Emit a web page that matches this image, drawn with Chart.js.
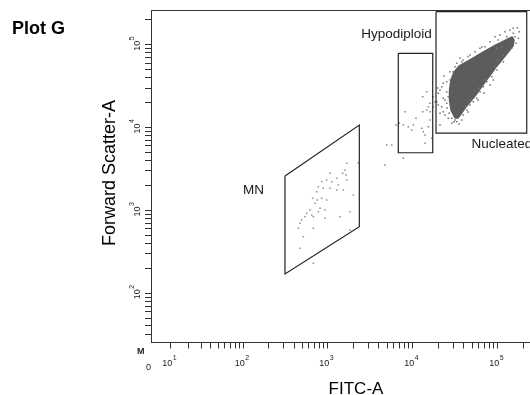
<!DOCTYPE html>
<html>
<head>
<meta charset="utf-8">
<title>Plot G</title>
<script src="https://cdn.jsdelivr.net/npm/chart.js@4.4.1/dist/chart.umd.min.js"></script>
<style>
  html, body { margin: 0; padding: 0; background: #fff; overflow: hidden; }
  #wrap { position: absolute; left: 0; top: 0; width: 560px; height: 395px; }
</style>
</head>
<body>
<div id="wrap"><canvas id="plotG"></canvas></div>
<script>
// ---- data (FITC-A on x, Forward Scatter-A on y) ----

// axis tick values
const xTickValues = [10, 20, 30, 40, 50, 60, 70, 80, 90,
  100, 200, 300, 400, 500, 600, 700, 800, 900,
  1000, 2000, 3000, 4000, 5000, 6000, 7000, 8000, 9000,
  10000, 20000, 30000, 40000, 50000, 60000, 70000, 80000, 90000,
  100000, 200000];
const yTickValues = [30, 40, 50, 60, 70, 80, 90,
  100, 200, 300, 400, 500, 600, 700, 800, 900,
  1000, 2000, 3000, 4000, 5000, 6000, 7000, 8000, 9000,
  10000, 20000, 30000, 40000, 50000, 60000, 70000, 80000, 90000,
  100000, 200000];
const xDecades = [10, 100, 1000, 10000, 100000];
const yDecades = [100, 1000, 10000, 100000];
const axisMax = 262144;

// gates (closed outlines)
const mnGateX = [313, 2348, 2348, 313, 313];
const mnGateY = [2600, 10700, 636, 171, 2600];
const hypoGateX = [6750, 17150, 17150, 6750, 6750];
const hypoGateY = [78700, 78700, 4970, 4970, 78700];
const nucGateX = [18750, 218800, 218800, 18750, 18750];
const nucGateY = [250000, 250000, 8590, 8590, 250000];

// dense nucleated core (outline of the solid region)
const coreX = [31370, 28150, 27030, 27030, 28150, 30530, 34960, 42270, 51080, 61760,
  74640, 90230, 109000, 128300, 146950, 155100, 151000, 135500, 121600, 109000,
  95230, 83180, 70700, 61760, 53930, 47090, 41130, 36900, 34020, 31370];
const coreY = [13030, 16280, 21490, 28380, 37470, 46790, 55270, 61770, 69020, 77150,
  86230, 96340, 106200, 115400, 123700, 113800, 96340, 83850, 72980, 63500,
  53760, 44260, 35440, 29170, 24030, 20330, 17210, 14570, 13030, 13030];

// single events
const mnEventsX = [1669, 2285, 1594, 1497, 1637, 1061, 1273, 970, 1111, 848,
  773, 885, 1061, 1273, 1522, 1669, 1329, 740, 664, 752,
  707, 848, 970, 810, 927, 773, 617, 565, 539, 647,
  675, 927, 1392, 1825, 1995, 493, 471, 450, 675, 515,
  471, 1825, 675];
const mnEventsY = [3702, 3765, 3074, 2805, 2676, 2805, 2441, 2328, 2221, 2221,
  1933, 1849, 1849, 1764, 1764, 2328, 2026, 1682, 1400, 1336,
  1219, 1400, 1336, 1061, 1012, 965, 1012, 923, 840, 880,
  840, 803, 840, 965, 1535, 766, 699, 609, 609, 482,
  349, 580, 230];

const hypoEventsX = [7731, 14570, 13080, 15940, 15220, 14570, 13080, 15940, 8094, 10900,
  15940, 6937, 6345, 7731, 8851, 10140, 9707, 12730, 13290, 15220,
  13920, 16690, 13920, 4931, 5646, 7731, 4709, 17420, 18250, 17420];
const hypoEventsY = [113800, 27060, 23560, 19610, 17840, 16280, 15530, 15530, 15530, 12930,
  12330, 11250, 10730, 10730, 10230, 10730, 9340, 9790, 8910, 10230,
  8128, 7418, 6454, 6156, 6156, 4255, 3532, 23560, 20500, 17840];

const nucEventsX = [19950, 20890, 21880, 22850, 23930, 25050, 21880, 22850, 26160, 27390,
  32850, 34300, 20890, 28690, 31370, 19950, 19530, 22850, 23930, 26160,
  32850, 20890, 19110, 25050, 27390, 31370, 37610, 47090, 53930, 61760,
  70700, 80950, 92710, 106100, 121600, 139200, 152200, 169600, 179000, 159400,
  174300, 163700, 145700, 132900, 116100, 101400, 92710, 84760, 88540, 74040,
  67520, 61760, 56470, 51500, 47090, 43060, 39280, 37610, 127300, 139200,
  152200, 97070, 111200, 25260, 26660, 30530, 29710, 38960, 44620, 70700,
  60090, 47090, 42270, 28920, 34960, 44620, 58490, 68810, 80950, 97860,
  116100, 25050, 23290, 35920, 65180, 100550];
const nucEventsY = [25890, 28380, 31110, 34190, 21490, 19610, 17840, 15530, 23560, 37470,
  59580, 54210, 10730, 12930, 12330, 18700, 30000, 22530, 14170, 12930,
  11760, 14850, 20500, 35740, 47180, 54210, 61770, 75050, 82250, 90400,
  94500, 108600, 124700, 130800, 143400, 150300, 157600, 160200, 143400, 124700,
  119300, 103800, 90400, 82250, 75050, 65290, 54210, 41060, 37470, 35740,
  31110, 27060, 22530, 20500, 18700, 16280, 14170, 12330, 124700, 108600,
  137100, 90400, 94500, 17210, 14850, 11760, 47180, 65290, 71970, 37470,
  30000, 21490, 17840, 11340, 11030, 15400, 21490, 26110, 32610, 49460,
  61770, 26840, 41860, 69020, 93710, 113800];

// ---- helpers ----
const font = '"Liberation Sans", Arial, Helvetica, sans-serif';
const axisColor = '#333';
const toPoints = (xs, ys) => xs.map((x, i) => ({ x: x, y: ys[i] }));

// biexponential-like display scale: log at high values, squeezed to 0 at the low end
class FacsScale extends Chart.Scale {
  static id = 'facs';
  static defaults = {};
  _tf(v) {
    const k = this.options.knee, p = this.options.power;
    return Math.log10(Math.pow(Math.pow(Math.max(v, 0), p) + Math.pow(k, p), 1 / p));
  }
  _itf(t) {
    const k = this.options.knee, p = this.options.power;
    return Math.pow(Math.max(Math.pow(10, p * t) - Math.pow(k, p), 0), 1 / p);
  }
  determineDataLimits() {
    this.min = this.options.min;
    this.max = this.options.max;
  }
  buildTicks() { return []; }
  configure() {
    super.configure();
    this._t0 = this._tf(this.min);
    this._t1 = this._tf(this.max);
  }
  getPixelForValue(v) {
    if (v === null || v === undefined || isNaN(v)) return NaN;
    return this.getPixelForDecimal((this._tf(v) - this._t0) / (this._t1 - this._t0));
  }
  getValueForPixel(px) {
    return this._itf(this._t0 + this.getDecimalForPixel(px) * (this._t1 - this._t0));
  }
}
Chart.register(FacsScale);

// texts: title, axis titles, 10^n tick labels, gate names, top frame line
const plotText = {
  id: 'plotText',
  afterDraw(chart) {
    const { ctx, chartArea: a } = chart;
    const xs = chart.scales.x, ys = chart.scales.y;
    ctx.save();

    // top edge of the plot frame
    ctx.strokeStyle = axisColor;
    ctx.lineWidth = 1;
    ctx.beginPath();
    ctx.moveTo(a.left, Math.round(a.top) + 0.5);
    ctx.lineTo(a.right, Math.round(a.top) + 0.5);
    ctx.stroke();

    ctx.fillStyle = '#000';
    ctx.textBaseline = 'alphabetic';

    ctx.font = 'bold 18px ' + font;
    ctx.textAlign = 'left';
    ctx.fillText('Plot G', 12, 34);

    ctx.font = '17px ' + font;
    ctx.textAlign = 'center';
    ctx.fillText('FITC-A', 356, 394);

    ctx.save();
    ctx.translate(115, 173);
    ctx.rotate(-Math.PI / 2);
    ctx.font = '18px ' + font;
    ctx.fillText('Forward Scatter-A', 0, 0);
    ctx.restore();

    // x tick labels
    ctx.fillStyle = '#222';
    ctx.textAlign = 'left';
    xDecades.forEach(v => {
      const px = xs.getPixelForValue(v);
      ctx.font = '9px ' + font;
      const w = ctx.measureText('10').width;
      const x0 = px - w + 1.5;
      ctx.fillText('10', x0, a.bottom + 23);
      ctx.font = '7px ' + font;
      ctx.fillText(String(Math.round(Math.log10(v))), x0 + w + 0.5, a.bottom + 17);
    });

    // y tick labels, rotated
    yDecades.forEach(v => {
      const py = ys.getPixelForValue(v);
      ctx.save();
      ctx.translate(a.left - 11, py);
      ctx.rotate(-Math.PI / 2);
      ctx.font = '9px ' + font;
      const w = ctx.measureText('10').width;
      ctx.fillText('10', -6, 0);
      ctx.font = '7px ' + font;
      ctx.fillText(String(Math.round(Math.log10(v))), -6 + w + 0.5, -6);
      ctx.restore();
    });

    // origin marks
    ctx.font = 'bold 9px ' + font;
    ctx.fillText('M', a.left - 14, a.bottom + 11);
    ctx.font = '9px ' + font;
    ctx.textAlign = 'center';
    ctx.fillText('0', a.left - 2.5, a.bottom + 27.5);

    // gate names
    ctx.fillStyle = '#1a1a1a';
    ctx.font = '13.5px ' + font;
    ctx.textAlign = 'right';
    ctx.fillText('MN', xs.getPixelForValue(mnGateX[0]) - 21, ys.getPixelForValue(mnGateY[0]) + 17.5);
    ctx.fillText('Hypodiploid', xs.getPixelForValue(hypoGateX[1]) - 1, ys.getPixelForValue(hypoGateY[0]) - 15);
    ctx.textAlign = 'left';
    ctx.fillText('Nucleated', xs.getPixelForValue(nucGateX[0]) + 35.5, ys.getPixelForValue(nucGateY[2]) + 15);

    ctx.restore();
  }
};

const gateStyle = {
  showLine: true,
  fill: false,
  borderColor: '#222',
  borderWidth: 1.2,
  pointRadius: 0,
  tension: 0,
  order: 0
};
const eventStyle = {
  pointStyle: 'rect',
  pointRadius: 1.1,
  pointBorderWidth: 0,
  order: 1
};

const data = {
  datasets: [
    Object.assign({ label: 'MN gate', data: toPoints(mnGateX, mnGateY) }, gateStyle),
    Object.assign({ label: 'Hypodiploid gate', data: toPoints(hypoGateX, hypoGateY) }, gateStyle),
    Object.assign({ label: 'Nucleated gate', data: toPoints(nucGateX, nucGateY) }, gateStyle),
    Object.assign({ label: 'MN events', data: toPoints(mnEventsX, mnEventsY),
      pointBackgroundColor: '#929292' }, eventStyle),
    Object.assign({ label: 'Hypodiploid events', data: toPoints(hypoEventsX, hypoEventsY),
      pointBackgroundColor: '#8a8a8a' }, eventStyle),
    Object.assign({ label: 'Nucleated events', data: toPoints(nucEventsX, nucEventsY),
      pointBackgroundColor: '#757575' }, eventStyle),
    {
      label: 'Nucleated core',
      data: toPoints(coreX, coreY),
      showLine: true,
      fill: 'shape',
      backgroundColor: '#5c5c5c',
      borderColor: '#5c5c5c',
      borderWidth: 1.5,
      pointRadius: 0,
      tension: 0,
      order: 2
    }
  ]
};

const options = {
  responsive: true,
  maintainAspectRatio: false,
  animation: false,
  events: [],
  devicePixelRatio: 1,
  layout: { autoPadding: false, padding: { left: 0, top: 10, right: 26.6, bottom: 0 } },
  plugins: { legend: { display: false }, tooltip: { enabled: false } },
  scales: {
    x: {
      type: 'facs',
      position: 'bottom',
      min: 0,
      max: axisMax,
      knee: 8.32,
      power: 1.6,
      afterBuildTicks: (scale) => { scale.ticks = xTickValues.map(v => ({ value: v })); },
      afterFit: (scale) => { scale.height = 52.5; },
      ticks: { display: false },
      grid: { drawOnChartArea: false, drawTicks: true, tickLength: 6, tickColor: axisColor, tickWidth: 1 },
      border: { display: true, color: axisColor, width: 1 }
    },
    y: {
      type: 'facs',
      position: 'left',
      min: 0,
      max: axisMax,
      knee: 25.5,
      power: 6,
      afterBuildTicks: (scale) => { scale.ticks = yTickValues.map(v => ({ value: v })); },
      afterFit: (scale) => { scale.width = 151; },
      ticks: { display: false },
      grid: { drawOnChartArea: false, drawTicks: true, tickLength: 6, tickColor: axisColor, tickWidth: 1 },
      border: { display: true, color: axisColor, width: 1 }
    }
  }
};

Chart.defaults.font.family = font;

const plotG = new Chart(document.getElementById('plotG'), {
  type: 'scatter',
  data,
  options,
  plugins: [plotText]
});
</script>
</body>
</html>
